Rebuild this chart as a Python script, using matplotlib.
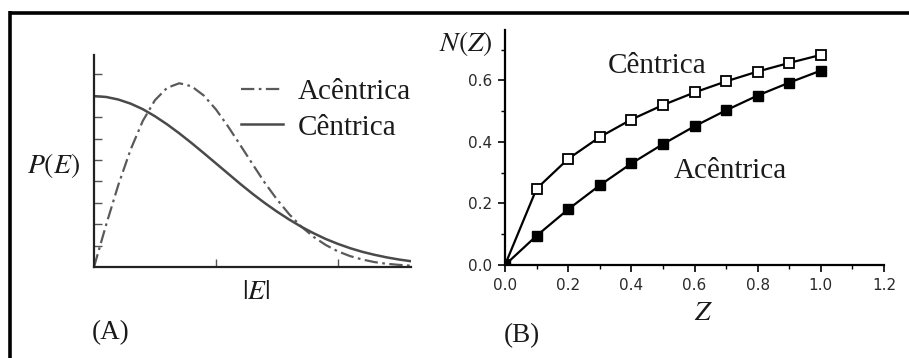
import matplotlib
matplotlib.use("Agg")
import matplotlib.pyplot as plt
from matplotlib.lines import Line2D
from matplotlib.ticker import MultipleLocator

plt.rcParams['mathtext.fontset'] = 'stix'
SERIF = ['Liberation Serif', 'DejaVu Serif']

# ---- Panel A data: |E| and P(E) ----
e_vals = [0.0, 0.1, 0.2, 0.3, 0.4, 0.5, 0.6, 0.7, 0.8, 0.9, 1.0, 1.1, 1.2, 1.3,
          1.4, 1.5, 1.6, 1.7, 1.8, 1.9, 2.0, 2.1, 2.2, 2.3, 2.4, 2.5, 2.6]
p_acentric = [0.0, 0.198, 0.384, 0.548, 0.682, 0.779, 0.837, 0.858, 0.844, 0.801,
              0.736, 0.656, 0.569, 0.481, 0.394, 0.316, 0.247, 0.189, 0.141, 0.103,
              0.073, 0.051, 0.035, 0.023, 0.015, 0.010, 0.006]
p_centric = [0.798, 0.794, 0.782, 0.763, 0.737, 0.704, 0.666, 0.624, 0.579, 0.532,
             0.484, 0.436, 0.388, 0.342, 0.299, 0.259, 0.222, 0.188, 0.158, 0.131,
             0.108, 0.088, 0.071, 0.057, 0.045, 0.035, 0.027]
label_acentric = 'Acêntrica'
label_centric = 'Cêntrica'

# ---- Panel B data: Z and N(Z) ----
z_vals = [0.0, 0.1, 0.2, 0.3, 0.4, 0.5, 0.6, 0.7, 0.8, 0.9, 1.0]
n_centric = [0.0, 0.248, 0.345, 0.416, 0.473, 0.520, 0.561, 0.597, 0.629, 0.657, 0.683]
n_acentric = [0.0, 0.095, 0.181, 0.259, 0.330, 0.393, 0.451, 0.503, 0.551, 0.593, 0.632]
b_xticks = [0.0, 0.2, 0.4, 0.6, 0.8, 1.0, 1.2]
b_yticks = [0.0, 0.2, 0.4, 0.6]

W, H = 909, 358
fig = plt.figure(figsize=(W / 100, H / 100), dpi=100)
fig.patch.set_facecolor('white')

def fx(px):
    return px / W

def fy(py):
    return 1 - py / H

# outer frame (top and left)
fig.add_artist(Line2D([fx(10), 1.0], [fy(12.5), fy(12.5)], color='black', lw=2.6,
                      transform=fig.transFigure, solid_capstyle='butt'))
fig.add_artist(Line2D([fx(10), fx(10)], [fy(11), 0.0], color='black', lw=2.6,
                      transform=fig.transFigure, solid_capstyle='butt'))

# ---------------- Panel A ----------------
axA = fig.add_axes([fx(94), fy(267), fx(411) - fx(94), fy(55) - fy(267)])
axA.plot(e_vals, p_acentric, color='#5a5a5a', lw=1.6, linestyle=(0, (6, 2, 1.2, 2)),
         label=label_acentric)
axA.plot(e_vals, p_centric, color='#4a4a4a', lw=1.8, label=label_centric)
axA.set_xlim(0, 2.6)
axA.set_ylim(0, 0.99)
for s in ['top', 'right']:
    axA.spines[s].set_visible(False)
for s in ['left', 'bottom']:
    axA.spines[s].set_linewidth(1.6)
    axA.spines[s].set_color('#222222')
axA.set_xticks([1.0, 2.0])
axA.set_yticks([0.1, 0.2, 0.3, 0.4, 0.5, 0.6, 0.7, 0.8, 0.9])
axA.tick_params(direction='in', length=6, width=1.0, color='#555555',
                labelleft=False, labelbottom=False)
axA.patch.set_alpha(0)

leg = axA.legend(loc='upper left', bbox_to_anchor=(fx(241), fy(79)),
                 bbox_transform=fig.transFigure, frameon=False,
                 prop={'family': SERIF, 'size': 21}, handlelength=1.45,
                 handletextpad=0.5, labelspacing=0.3, borderpad=0, borderaxespad=0)
for t in leg.get_texts():
    t.set_color('#1a1a1a')

fig.text(fx(54), fy(165), r'$P(E)$', fontsize=20, ha='center', va='center', color='#1a1a1a')
fig.text(fx(256), fy(291), r'$|E|$', fontsize=20, ha='center', va='center', color='#1a1a1a')
fig.text(fx(111), fy(333), '(A)', fontsize=19.5, ha='center', va='center',
         family=SERIF, color='#1a1a1a')

# ---------------- Panel B ----------------
axB = fig.add_axes([fx(505), fy(265), fx(884) - fx(505), fy(30) - fy(265)])
axB.plot(z_vals, n_centric, color='black', lw=1.6, marker='s', markersize=6.5,
         markerfacecolor='white', markeredgecolor='black', markeredgewidth=1.3)
axB.plot(z_vals, n_acentric, color='black', lw=1.6, marker='s', markersize=6.5,
         markerfacecolor='black', markeredgecolor='black')
axB.set_xlim(0, 1.2)
axB.set_ylim(0, 0.764)
for s in ['top', 'right']:
    axB.spines[s].set_visible(False)
for s in ['left', 'bottom']:
    axB.spines[s].set_linewidth(1.6)
    axB.spines[s].set_color('black')
axB.set_xticks(b_xticks)
axB.set_yticks(b_yticks)
axB.xaxis.set_minor_locator(MultipleLocator(0.1))
axB.yaxis.set_minor_locator(MultipleLocator(0.1))
axB.tick_params(which='major', direction='out', length=5, width=1.2, color='black',
                labelsize=11, labelcolor='#2a2a2a', pad=4)
axB.tick_params(which='minor', direction='out', length=3, width=1.0, color='black')
axB.set_xticklabels([f'{v:.1f}' for v in b_xticks])
axB.set_yticklabels([f'{v:.1f}' for v in b_yticks])
axB.patch.set_alpha(0)

fig.text(fx(466), fy(43), r'$N(Z)$', fontsize=20, ha='center', va='center', color='#1a1a1a')
fig.text(fx(657), fy(66), label_centric, fontsize=21, ha='center', va='center',
         family=SERIF, color='#1a1a1a')
fig.text(fx(730), fy(171), label_acentric, fontsize=21, ha='center', va='center',
         family=SERIF, color='#1a1a1a')
fig.text(fx(703), fy(312), r'$Z$', fontsize=20, ha='center', va='center', color='#1a1a1a')
fig.text(fx(522), fy(336), '(B)', fontsize=19.5, ha='center', va='center',
         family=SERIF, color='#1a1a1a')

fig.savefig('out.png', dpi=100, facecolor='white')
